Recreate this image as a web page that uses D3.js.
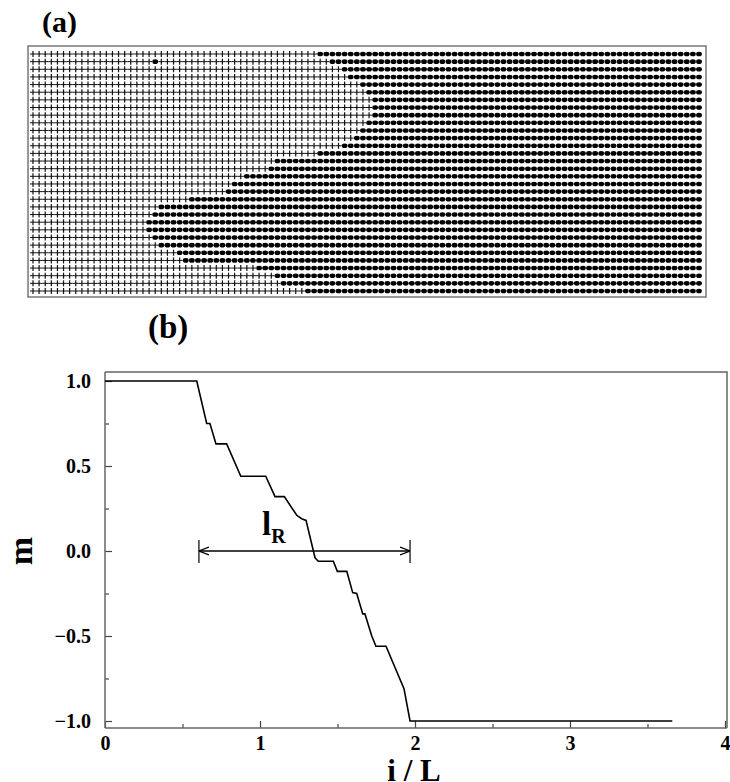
<!DOCTYPE html>
<html>
<head>
<meta charset="utf-8">
<script src="https://cdn.jsdelivr.net/npm/d3@7"></script>
<style>
  body { margin: 0; background: #fff; }
  text { font-family: "Liberation Serif", "Times New Roman", serif; font-weight: bold; }
</style>
</head>
<body>
<script>
// lattice (a): number of "+" spins counted from the left in each row
var nRows = 32, nCols = 110;
var upLength = [47, 49, 51, 52, 54, 55, 56, 56, 56, 55, 54, 53, 51, 47, 40, 39,
                35, 33, 32, 26, 21, 20, 19, 19, 20, 21, 24, 25, 37, 40, 41, 45];
// isolated flipped spins [row, col]
var flipped = [[1, 20]];

// profile (b): m against i/L
var iL   = [0, 0.592, 0.656, 0.677, 0.716, 0.785, 0.876, 1.037, 1.097, 1.157, 1.237, 1.269,
            1.297, 1.355, 1.376, 1.473, 1.499, 1.56, 1.598, 1.624, 1.663, 1.677, 1.721,
            1.748, 1.813, 1.929, 1.968, 3.66];
var mVal = [1, 1, 0.75, 0.75, 0.63, 0.63, 0.44, 0.44, 0.32, 0.32, 0.21, 0.19,
            0.18, -0.04, -0.06, -0.06, -0.12, -0.12, -0.245, -0.25, -0.37, -0.37, -0.5,
            -0.56, -0.56, -0.81, -1, -1];
var xTicks = [0, 1, 2, 3, 4];
var yTicks = [-1, -0.5, 0, 0.5, 1];
// l_R arrow ends (i/L)
var lR = [0.606, 1.968];

var svg = d3.select("body").append("svg")
    .attr("width", 730)
    .attr("height", 782);

// ---------- panel (a) ----------
svg.append("text").attr("x", 42).attr("y", 32).attr("font-size", 30).text("(a)");

svg.append("rect")
    .attr("x", 28).attr("y", 46).attr("width", 678).attr("height", 251)
    .attr("fill", "none").attr("stroke", "#777").attr("stroke-width", 1.5);

var col = d3.scalePoint().domain(d3.range(nCols)).range([33, 699]);
var row = d3.scalePoint().domain(d3.range(nRows)).range([54, 291]);
var dx = col.step();

var spins = [];
for (var r = 0; r < nRows; r++) {
	for (var c = 0; c < nCols; c++) {
		var s = c < upLength[r] ? 1 : -1;
		if (flipped.some(f => f[0] === r && f[1] === c)) s = -s;
		spins.push({r: r, c: c, s: s});
	}
}

var lat = svg.append("g");
var ups = lat.selectAll("g.up")
	.data(spins.filter(d => d.s > 0))
	.join("g")
	.attr("class", "up")
	.attr("transform", d => "translate(" + col(d.c) + "," + row(d.r) + ")");
ups.append("line").attr("x1", -dx / 2).attr("x2", dx / 2).attr("stroke", "#111").attr("stroke-width", 1);
ups.append("line").attr("y1", -3).attr("y2", 3).attr("stroke", "#111").attr("stroke-width", 1.2);

lat.selectAll("ellipse")
	.data(spins.filter(d => d.s < 0))
	.join("ellipse")
	.attr("cx", d => col(d.c))
	.attr("cy", d => row(d.r))
	.attr("rx", 2.9)
	.attr("ry", 2.3)
	.attr("fill", "#000");

// ---------- panel (b) ----------
svg.append("text").attr("x", 148).attr("y", 338).attr("font-size", 33).text("(b)");

var x = d3.scaleLinear().domain([0, 4]).range([105, 725]);
var y = d3.scaleLinear().domain([-1, 1]).range([721, 381]);
var yTop = 372, yBottom = 728, xRight = 727;

// frame
svg.append("path")
	.attr("d", "M105," + yTop + "H" + xRight + "V" + yBottom)
	.attr("fill", "none").attr("stroke", "#666").attr("stroke-width", 1.5);

svg.append("g").attr("transform", "translate(0," + yBottom + ")")
	.call(d3.axisBottom(x).tickValues(xTicks).tickFormat(d3.format("d")).tickSize(-7).tickPadding(8));
svg.append("g").attr("transform", "translate(0," + yBottom + ")")
	.call(d3.axisBottom(x).tickValues([0.5, 1.5, 2.5, 3.5]).tickFormat("").tickSize(-4));

svg.append("g").attr("transform", "translate(105,0)")
	.call(d3.axisLeft(y).tickValues(yTicks).tickFormat(d3.format(".1f")).tickSize(-7).tickPadding(14));
svg.append("g").attr("transform", "translate(105,0)")
	.call(d3.axisLeft(y).tickValues([-0.75, -0.25, 0.25, 0.75]).tickFormat("").tickSize(-4));

svg.selectAll(".domain").remove();
svg.append("line").attr("x1", 105).attr("x2", xRight).attr("y1", yBottom).attr("y2", yBottom)
	.attr("stroke", "#666").attr("stroke-width", 1.5);
svg.append("line").attr("x1", 105).attr("x2", 105).attr("y1", yTop).attr("y2", yBottom)
	.attr("stroke", "#666").attr("stroke-width", 1.5);
svg.selectAll(".tick line").attr("stroke", "#444").attr("stroke-width", 1.2);
svg.selectAll(".tick text").attr("font-size", 20).attr("fill", "#000")
	.style("font-family", "'Liberation Serif', serif").style("font-weight", "bold");

// curve
var line = d3.line().x(d => x(d[0])).y(d => y(d[1]));
svg.append("path")
	.datum(d3.zip(iL, mVal))
	.attr("d", line)
	.attr("fill", "none").attr("stroke", "#000").attr("stroke-width", 1.6);

// l_R arrow
svg.append("defs").append("marker")
	.attr("id", "ah").attr("viewBox", "0 0 10 10").attr("refX", 10).attr("refY", 5)
	.attr("markerWidth", 10).attr("markerHeight", 10).attr("markerUnits", "userSpaceOnUse")
	.attr("orient", "auto-start-reverse")
	.append("path").attr("d", "M0,1L10,5L0,9").attr("fill", "none").attr("stroke", "#000").attr("stroke-width", 1.3);

svg.append("line")
	.attr("x1", x(lR[0])).attr("x2", x(lR[1])).attr("y1", y(0)).attr("y2", y(0))
	.attr("stroke", "#000").attr("stroke-width", 1.5)
	.attr("marker-start", "url(#ah)").attr("marker-end", "url(#ah)");
svg.selectAll("line.bar").data(lR).join("line").attr("class", "bar")
	.attr("x1", d => x(d)).attr("x2", d => x(d))
	.attr("y1", y(0) - 11).attr("y2", y(0) + 12)
	.attr("stroke", "#000").attr("stroke-width", 1.2);

var lab = svg.append("text").attr("x", 262).attr("y", 535).attr("font-size", 33);
lab.append("tspan").text("l");
lab.append("tspan").attr("font-size", 20).attr("dy", 8).text("R");

// axis titles
svg.append("text").attr("x", 414).attr("y", 781).attr("text-anchor", "middle")
	.attr("font-size", 31).text("i / L");
svg.append("text").attr("transform", "translate(32,551) rotate(-90)").attr("text-anchor", "middle")
	.attr("font-size", 34).text("m");
</script>
</body>
</html>
